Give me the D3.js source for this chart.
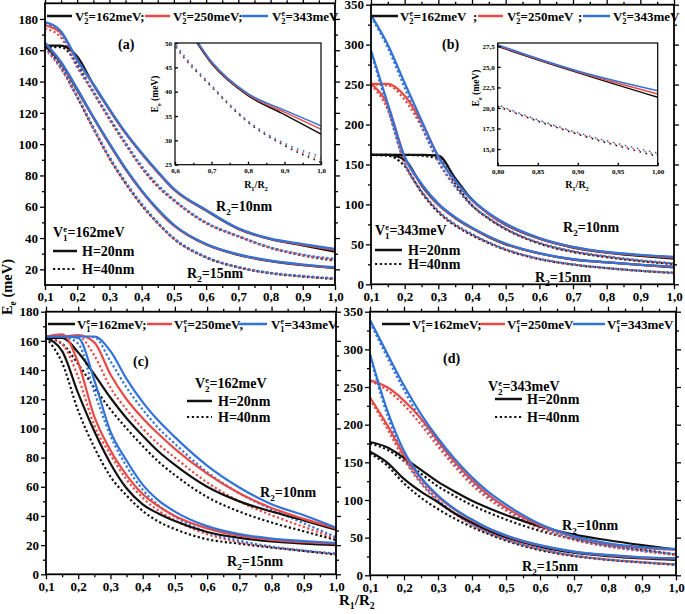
<!DOCTYPE html>
<html><head><meta charset="utf-8">
<script src="https://cdn.jsdelivr.net/npm/d3@7"></script>
<style>
body{margin:0;background:#fff}
svg{display:block;font-family:"Liberation Serif","Times New Roman",serif;font-weight:bold}
</style></head>
<body><svg id="c" width="685" height="614"></svg>
<script>
// ---------- data ----------
const X = [0.1,0.15,0.2,0.25,0.3,0.35,0.4,0.45,0.5,0.6,0.7,0.8,0.9,1.0];
const xTickVals = [0.1,0.2,0.3,0.4,0.5,0.6,0.7,0.8,0.9,1.0];
const xMinorVals = [0.15,0.25,0.35,0.45,0.55,0.65,0.75,0.85,0.95];
const yTicksA = [20,40,60,80,100,120,140,160,180];
const yMinorA = [30,50,70,90,110,130,150,170];
const yTicksB = [0,50,100,150,200,250,300,350];
const yMinorB = [25,75,125,175,225,275,325];
const yTicksC = [0,20,40,60,80,100,120,140,160,180];
const yMinorC = [10,30,50,70,90,110,130,150,170];
const yTicksD = [0,50,100,150,200,250,300,350];
const yMinorD = [25,75,125,175,225,275,325];
const insAx = [0.6,0.7,0.8,0.9,1.0];
const insAxMinor = [0.65,0.75,0.85,0.95];
const insAy = [25,30,35,40,45,50];
const insBx = [0.8,0.85,0.9,0.95,1.0];
const insBy = [15,17.5,20,22.5,25,27.5];

// panel (a): V1=162, V2 = 162 (k), 250 (r), 343 (b)
const aK10s = [163,163,156,138,122,107,94,82,71,57.5,45.8,39.2,35.3,31.3];
const aR10s = [176,171,153.5,138,122,107,94,82,71,57.8,46,39.4,35.8,32.3];
const aB10s = [178,172,154,138.5,122.5,107.5,94.5,82.5,71.5,58,46.2,39.6,36.2,33];
const aK10d = [162,162,151,133,116,100,85,73,64,49.5,41,33.7,28.9,25.5];
const aR10d = [174,168,149,133,116,100,85,73,64,49.6,41.1,33.8,29.1,26.1];
const aB10d = [177,170,150,134,117,101,86,74,64.5,50,41.3,34,29.4,26.7];
const aK15s = [163,151.5,134.5,117,100,84,70,58,48,35.8,29.2,25.2,22.6,20.8];
const aR15s = [164.5,152,135,117,100,84,70,58,48,36,29.4,25.4,22.9,21.1];
const aB15s = [165,152.5,135.5,117.5,100.5,84.5,70.5,58.5,48.5,36.2,29.6,25.6,23.1,21.4];
const aK15d = [162,149,130,110,91,75,61,49.5,39.5,27.6,21.2,17.5,15.4,13.8];
const aR15d = [161,148,130,110,91,75,61,49.5,39.5,27.7,21.3,17.6,15.5,14];
const aB15d = [162,149,131,111,92,76,62,50,40,28,21.5,17.8,15.8,14.3];

// panel (b): V1=343
const bK10s = [162,162,162,162,161,133,106,88,74.5,57,46,39.5,35.5,32];
const bR10s = [251,251,236,203,160,129,105,88,75,57.5,46.5,40,36.5,33.5];
const bB10s = [337,300,252,205,160,130,106,89,76,58,47,40.5,37,34.5];
const bK10d = [162,162,162,161,157,126,99,82,69,51,40.5,34,29,25.3];
const bR10d = [250,249,231,197,153,122,98,82,69,51.5,41,34.5,29.5,25.8];
const bB10d = [335,296,246,198,154,123,99,83,70,52,41.5,35,30,26.3];
const bK15s = [162,162,156,124,99.5,83,70,59,50,38.5,31,27.5,24.3,21.3];
const bR15s = [251,224,159,125,100,83.5,70.5,59.5,50.5,38.7,31.3,27.6,24.4,21.7];
const bB15s = [293,226,160,126,101,84,71,60,51,39,31.5,27.7,24.5,22.1];
const bK15d = [162,161,148,115,90,73.5,61.5,51.5,43,31.5,24.6,20.2,16.8,14.1];
const bR15d = [250,218,151,116,91,74,62,52,43.5,31.7,24.8,20.3,16.9,14.3];
const bB15d = [290,220,152,117,92,75,63,52.5,44,32,25,20.4,17,14.5];

// panel (c): V2=162, V1 = 162 (k), 250 (r), 343 (b)
const cK10s = [162,162,152,137,121,107,95,84,75,60,50,43,37,30.5];
const cR10s = [163,163,164,159,137,120,107,96,86,69,55.5,45.5,38,31.5];
const cB10s = [163,163,163,163,153,134,118,105,94,74.5,59.5,48,40.5,32];
const cK10d = [162,158,144,128,113,100,88,77,68,53,43,35.5,29.5,23.5];
const cR10d = [163,163,163,150,128,113,100,89,80,63,50,40.5,32.5,24.5];
const cB10d = [163,163,163,162.5,146,128,113,100,89.5,70,55.5,44.5,35,25.5];
const cK15s = [162,153,124,98,76,59,48,41.5,36.5,29,25,22.5,21,20];
const cR15s = [163,164.5,145,108,85,68,55,46.5,40,31.5,26.5,23.5,22,21];
const cB15s = [163,163,162,133,98,78,61.5,50.5,43,33,27.5,24.5,22.8,21.5];
const cK15d = [162,145,112,87,67,54,43.5,36,31,24,21,18.3,16,13.5];
const cR15d = [163,158,135,102,82,65,52.5,43.5,37,27.5,22,18.5,16,14];
const cB15d = [163,163,158,125,95,74,58,47,39.5,29,23,19,16.3,14.2];

// panel (d): V2=343
const dK10s = [177,170,156,140,124,111,99,89,80,65,54,46.5,40,34];
const dR10s = [259,250,232,208,178,150,126,106,90,66,51,41.5,36.5,34];
const dB10s = [339,295,252,214,182,154,130,110,94,68,52,42.5,37.5,35];
const dK10d = [175,167,152,135,118,105,93,83,74,59,48,40,34,27.5];
const dR10d = [258,246,226,200,171,144,120,101,86,62,47,38,32,27];
const dB10d = [336,290,246,207,176,148,124,104,89,64,48.5,39,33,28];
const dK15s = [164,150,128,111,97,82,70,59,50.5,38,30,25.5,22.5,20.5];
const dR15s = [236,200,160,128,104,87,73,61.5,52.5,39.5,31,26.5,23.5,22];
const dB15s = [294,220,165,130,106,88,74,62,53,40,31.5,27,24,22.5];
const dK15d = [162,146,122,103,88,75,64,54.5,46,33.5,25.5,20.5,17,14];
const dR15d = [234,195,154,122,98,81,67,56,47.5,34.5,26,20.8,17.3,14.3];
const dB15d = [291,214,158,124,100,82,68,57,48,35,26.5,21,17.5,14.5];

// ---------- drawing ----------
const COL = {k:"#111111", r:"#e84a45", b:"#3273d8"};
const svg = d3.select("#c");
const defs = svg.append("defs");
const comma = f => d => d3.format(f)(d).replace(".", ",");

function rich(g, x, y, segs, size, opts) {
  opts = opts || {};
  const t = g.append("text").attr("x", x).attr("y", y).attr("font-size", size).attr("fill", "#000");
  if (opts.anchor) t.attr("text-anchor", opts.anchor);
  if (opts.transform) t.attr("transform", opts.transform);
  let cur = 0;
  segs.forEach(s => {
    let off = 0, fs = size;
    if (s.sup) { off = -0.38 * size; fs = 0.6 * size; }
    if (s.sub) { off = 0.28 * size; fs = 0.65 * size; }
    const sp = t.append("tspan").attr("font-size", fs).attr("dy", off - cur).text(s.t);
    if (s.back) sp.attr("dx", -s.back * size);
    cur = off;
  });
  return t;
}
const Vseg = (sub, rest) => [{t:"V"},{t:"e",sup:1},{t:sub,sub:1,back:0.27},{t:rest}];
const Rseg = rest => [{t:"R"},{t:"2",sub:1},{t:rest}];
const R12 = [{t:"R"},{t:"1",sub:1},{t:"/R"},{t:"2",sub:1}];
const Eseg = [{t:"E"},{t:"e",sub:1},{t:" (meV)"}];

function styleAxis(sel, fs) {
  sel.select(".domain").remove();
  sel.attr("font-family", null).attr("font-size", fs).attr("font-weight", "bold");
  sel.selectAll("line").attr("stroke", "#000").attr("stroke-width", 1.3);
  sel.selectAll("text").attr("fill", "#000");
}

function drawLines(g, x, y, lines, clipId, w, dash) {
  const line = d3.line().x((d, i) => x(X[i])).y(d => y(d)).curve(d3.curveMonotoneX);
  const cg = g.append("g").attr("clip-path", `url(#${clipId})`);
  lines.forEach(([arr, c, dotted]) => {
    cg.append("path").attr("d", line(arr)).attr("fill", "none")
      .attr("stroke", COL[c]).attr("stroke-width", w)
      .attr("stroke-dasharray", dotted ? dash : null);
  });
}

function lineSet(k10s,r10s,b10s,k10d,r10d,b10d,k15s,r15s,b15s,k15d,r15d,b15d) {
  return [[k10d,"k",1],[r10d,"r",1],[b10d,"b",1],[k15d,"k",1],[r15d,"r",1],[b15d,"b",1],
          [k10s,"k",0],[r10s,"r",0],[b10s,"b",0],[k15s,"k",0],[r15s,"r",0],[b15s,"b",0]];
}

function drawPanel(p) {
  const g = svg.append("g");
  const x = d3.scaleLinear().domain([0.1, 1.0]).range([p.x0, p.x1]);
  const y = d3.scaleLinear().domain(p.yDom).range([p.y1, p.y0]);
  const cid = "clip" + p.id;
  defs.append("clipPath").attr("id", cid).append("rect")
    .attr("x", p.x0).attr("y", p.y0).attr("width", p.x1 - p.x0).attr("height", p.y1 - p.y0);
  drawLines(g, x, y, p.lines, cid, 2.2, "2.2,2.4");
  g.append("g").attr("transform", `translate(${p.x0},0)`)
    .call(d3.axisLeft(y).tickValues(p.yt).tickFormat(d3.format("d")).tickSize(5).tickPadding(2)).call(s => styleAxis(s, 13));
  g.append("g").attr("transform", `translate(${p.x0},0)`)
    .call(d3.axisLeft(y).tickValues(p.ym).tickFormat("").tickSize(3)).call(s => styleAxis(s, 13));
  g.append("g").attr("transform", `translate(${p.x1},0)`)
    .call(d3.axisRight(y).tickValues(p.yt).tickFormat("").tickSize(5)).call(s => styleAxis(s, 13));
  g.append("g").attr("transform", `translate(${p.x1},0)`)
    .call(d3.axisRight(y).tickValues(p.ym).tickFormat("").tickSize(3)).call(s => styleAxis(s, 13));
  g.append("g").attr("transform", `translate(0,${p.y1})`)
    .call(d3.axisBottom(x).tickValues(xTickVals).tickFormat(comma(".1f")).tickSize(5).tickPadding(2)).call(s => styleAxis(s, 13));
  g.append("g").attr("transform", `translate(0,${p.y1})`)
    .call(d3.axisBottom(x).tickValues(xMinorVals).tickFormat("").tickSize(3)).call(s => styleAxis(s, 13));
  g.append("g").attr("transform", `translate(0,${p.y0})`)
    .call(d3.axisTop(x).tickValues(xTickVals).tickFormat("").tickSize(5)).call(s => styleAxis(s, 13));
  g.append("g").attr("transform", `translate(0,${p.y0})`)
    .call(d3.axisTop(x).tickValues(xMinorVals).tickFormat("").tickSize(3)).call(s => styleAxis(s, 13));
  g.append("rect").attr("x", p.x0).attr("y", p.y0).attr("width", p.x1 - p.x0).attr("height", p.y1 - p.y0)
    .attr("fill", "none").attr("stroke", "#000").attr("stroke-width", 1.8);
}

function drawInset(p) {
  const g = svg.append("g");
  const x = d3.scaleLinear().domain(p.xDom).range([p.x0, p.x1]);
  const y = d3.scaleLinear().domain(p.yDom).range([p.y1, p.y0]);
  g.append("rect").attr("x", p.x0).attr("y", p.y0).attr("width", p.x1 - p.x0).attr("height", p.y1 - p.y0).attr("fill", "#fff");
  const cid = "clip" + p.id;
  defs.append("clipPath").attr("id", cid).append("rect")
    .attr("x", p.x0).attr("y", p.y0).attr("width", p.x1 - p.x0).attr("height", p.y1 - p.y0);
  drawLines(g, x, y, p.lines, cid, 1.5, "1.6,4.6");
  g.append("g").attr("transform", `translate(${p.x0},0)`)
    .call(d3.axisLeft(y).tickValues(p.yt).tickFormat(p.yf).tickSize(-3).tickPadding(3)).call(s => styleAxis(s, 7));
  g.append("g").attr("transform", `translate(0,${p.y1})`)
    .call(d3.axisBottom(x).tickValues(p.xt).tickFormat(p.xf).tickSize(-3).tickPadding(3)).call(s => styleAxis(s, 7));
  if (p.xm) g.append("g").attr("transform", `translate(0,${p.y1})`)
    .call(d3.axisBottom(x).tickValues(p.xm).tickFormat("").tickSize(-2)).call(s => styleAxis(s, 7));
  g.append("rect").attr("x", p.x0).attr("y", p.y0).attr("width", p.x1 - p.x0).attr("height", p.y1 - p.y0)
    .attr("fill", "none").attr("stroke", "#000").attr("stroke-width", 1.2);
  rich(g, 0, 0, Eseg, 9.5, {anchor: "middle", transform: `translate(${p.ytx},${p.yty}) rotate(-90)`});
  rich(g, p.xtx, p.xty, R12, 10, {anchor: "middle"});
}

const panels = [
  {id:"a", x0:45, x1:335, y0:3.3, y1:285, yDom:[10,190], yt:yTicksA, ym:yMinorA,
   lines: lineSet(aK10s,aR10s,aB10s,aK10d,aR10d,aB10d,aK15s,aR15s,aB15s,aK15d,aR15d,aB15d)},
  {id:"b", x0:371, x1:674, y0:4.7, y1:284.3, yDom:[0,350], yt:yTicksB, ym:yMinorB,
   lines: lineSet(bK10s,bR10s,bB10s,bK10d,bR10d,bB10d,bK15s,bR15s,bB15s,bK15d,bR15d,bB15d)},
  {id:"c", x0:46, x1:336, y0:311.7, y1:574.3, yDom:[0,180], yt:yTicksC, ym:yMinorC,
   lines: lineSet(cK10s,cR10s,cB10s,cK10d,cR10d,cB10d,cK15s,cR15s,cB15s,cK15d,cR15d,cB15d)},
  {id:"d", x0:370, x1:676, y0:311.7, y1:575.3, yDom:[0,350], yt:yTicksD, ym:yMinorD,
   lines: lineSet(dK10s,dR10s,dB10s,dK10d,dR10d,dB10d,dK15s,dR15s,dB15s,dK15d,dR15d,dB15d)}
];
panels.forEach(drawPanel);

drawInset({id:"ia", x0:175, x1:321, y0:43, y1:164.7, xDom:[0.6,1.0], yDom:[25,50],
  xt:insAx, xm:insAxMinor, xf:comma(".1f"), yt:insAy, yf:d3.format("d"),
  lines:[[aK10d,"k",1],[aR10d,"r",1],[aB10d,"b",1],[aK10s,"k",0],[aR10s,"r",0],[aB10s,"b",0]],
  ytx:158, yty:94, xtx:256, xty:188});
drawInset({id:"ib", x0:497.7, x1:657.7, y0:43, y1:165.7, xDom:[0.8,1.0], yDom:[12.97,27.91],
  xt:insBx, xf:comma(".2f"), yt:insBy, yf:comma(".1f"),
  lines:[[bK15d,"k",1],[bR15d,"r",1],[bB15d,"b",1],[bK15s,"k",0],[bR15s,"r",0],[bB15s,"b",0]],
  ytx:479, yty:88, xtx:577, xty:188});

// ---------- legends & labels ----------
const T = svg.append("g");
function legLine(x1, x2, yy, c, dotted, w) {
  T.append("line").attr("x1", x1).attr("x2", x2).attr("y1", yy).attr("y2", yy)
    .attr("stroke", COL[c]).attr("stroke-width", w || 2.5)
    .attr("stroke-dasharray", dotted ? "2.2,2.6" : null);
}
legLine(47, 72, 16, "k"); rich(T, 75, 20.5, Vseg("2", "=162meV;"), 13);
legLine(145, 170, 16, "r"); rich(T, 173, 20.5, Vseg("2", "=250meV;"), 13);
legLine(242, 268, 16, "b"); rich(T, 272, 20.5, Vseg("2", "=343meV"), 13);
legLine(371, 398, 16, "k"); rich(T, 400, 20.5, Vseg("2", "=162meV"), 13);
T.append("text").attr("x", 473).attr("y", 20.5).attr("font-size", 13).text(";");
legLine(478, 503, 16, "r"); rich(T, 507, 20.5, Vseg("2", "=250meV"), 13);
T.append("text").attr("x", 578).attr("y", 20.5).attr("font-size", 13).text(";");
legLine(583, 610, 16, "b"); rich(T, 613, 20.5, Vseg("2", "=343meV"), 13);
legLine(48, 75, 324, "k"); rich(T, 77, 328.5, Vseg("1", "=162meV;"), 13);
legLine(147, 172, 324, "r"); rich(T, 174, 328.5, Vseg("1", "=250meV;"), 13);
legLine(238, 267, 324, "b"); rich(T, 271, 328.5, Vseg("1", "=343meV"), 13);
legLine(382, 410, 324, "k"); rich(T, 412, 328.5, Vseg("1", "=162meV;"), 13);
legLine(480, 505, 324, "r"); rich(T, 507, 328.5, Vseg("1", "=250meV"), 13);
legLine(573, 605, 324, "b"); rich(T, 607, 328.5, Vseg("1", "=343meV"), 13);

function hLegend(vx, vy, sub, val, lx1, lx2, ly1, ly2, tx) {
  rich(T, vx, vy, Vseg(sub, val), 14);
  legLine(lx1, lx2, ly1, "k", 0, 2.5);
  T.append("text").attr("x", tx).attr("y", ly1 + 5).attr("font-size", 14).text("H=20nm");
  legLine(lx1, lx2, ly2, "k", 1, 2.2);
  T.append("text").attr("x", tx).attr("y", ly2 + 5).attr("font-size", 14).text("H=40nm");
}
hLegend(53, 237, "1", "=162meV", 53, 77, 251, 269, 82);
hLegend(375, 235, "1", "=343meV", 375, 402, 250, 264, 408);
hLegend(195, 388, "2", "=162meV", 187, 212, 401, 417, 218);
hLegend(488, 391, "2", "=343meV", 495, 522, 399, 417, 527);

[["(a)",118,49],["(b)",442,49],["(c)",133,366],["(d)",443,363]].forEach(([t,x,y]) =>
  T.append("text").attr("x", x).attr("y", y).attr("font-size", 14).text(t));

[[216,211,"=10nm"],[187,278,"=15nm"],[563,232,"=10nm"],[535,282,"=15nm"],
 [260,497,"=10nm"],[227,566,"=15nm"],[562,530,"=10nm"],[522,571,"=15nm"]].forEach(([x,y,t]) =>
  rich(T, x, y, Rseg(t), 14));

rich(T, 0, 0, Eseg, 14.5, {anchor: "middle", transform: "translate(12,287) rotate(-90)"});
rich(T, 339, 605, R12, 15);
</script>
</body></html>
